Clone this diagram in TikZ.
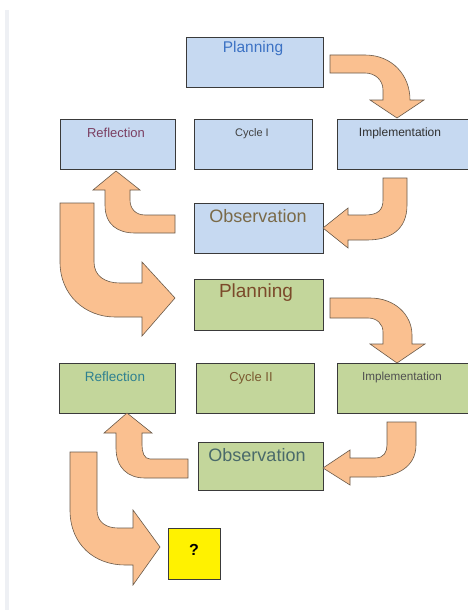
\documentclass[tikz,border=0pt]{standalone}
\usepackage{fontspec}
\setmainfont{Liberation Sans}
\usetikzlibrary{shadows}
\definecolor{bluefill}{HTML}{C6D9F1}
\definecolor{greenfill}{HTML}{C3D69B}
\definecolor{arrowfill}{HTML}{FAC090}
\definecolor{arrowline}{HTML}{6A5A4A}
\definecolor{boxline}{HTML}{3A3A3A}
\definecolor{strip}{HTML}{EEF0F4}
\definecolor{tPlanA}{HTML}{3C72C4}
\definecolor{tReflA}{HTML}{7B3F62}
\definecolor{tCycA}{HTML}{404040}
\definecolor{tImpA}{HTML}{303030}
\definecolor{tObsA}{HTML}{7A6A48}
\definecolor{tPlanB}{HTML}{7B4A2A}
\definecolor{tReflB}{HTML}{2E8090}
\definecolor{tCycB}{HTML}{7A5A30}
\definecolor{tImpB}{HTML}{505050}
\definecolor{tObsB}{HTML}{4A6A6A}
\tikzset{
  stagebox/.style={draw=boxline, line width=0.9pt, inner sep=0pt, outer sep=0pt,
    drop shadow={shadow xshift=0.8pt, shadow yshift=-0.8pt, opacity=0.35}},
  bluebox/.style={stagebox, fill=bluefill},
  greenbox/.style={stagebox, fill=greenfill},
  qbox/.style={stagebox, fill=yellow},
  lbl/.style={inner sep=0pt, anchor=center},
  blockarrow/.style={fill=arrowfill, draw=arrowline, line width=0.6pt, line join=miter}
}
\newcommand{\fs}[1]{\fontsize{#1}{#1}\selectfont}
\begin{document}
\begin{tikzpicture}[x=1pt, y=-1pt]
\useasboundingbox (0,0) rectangle (467,610);
\fill[white] (0,0) rectangle (467,610);
\fill[strip] (5,10) rectangle (9,610);

% ---- Cycle I boxes ----
\node[bluebox, minimum width=137pt, minimum height=50pt] (P1) at (254.5,62) {};
\node[bluebox, minimum width=115pt, minimum height=50pt] (R1) at (117.5,144) {};
\node[bluebox, minimum width=118pt, minimum height=50pt] (C1) at (253,144) {};
\node[bluebox, minimum width=135pt, minimum height=50pt] (I1) at (404.5,144) {};
\node[bluebox, minimum width=129pt, minimum height=50pt] (O1) at (258.5,228) {};

% ---- Cycle II boxes ----
\node[greenbox, minimum width=129pt, minimum height=51pt] (P2) at (258.5,304.5) {};
\node[greenbox, minimum width=116pt, minimum height=50pt] (R2) at (117,388) {};
\node[greenbox, minimum width=118pt, minimum height=50pt] (C2) at (255,388) {};
\node[greenbox, minimum width=135pt, minimum height=50pt] (I2) at (404.5,388) {};
\node[greenbox, minimum width=125pt, minimum height=48pt] (O2) at (260.5,466) {};

\node[qbox, minimum width=52pt, minimum height=51pt] (Q) at (194,553.5) {};

% ---- labels ----
\node[lbl, text=tPlanA] (P1t) at (253,48) {\fs{15.5}Planning};
\node[lbl, text=tReflA] (R1t) at (116,133) {\fs{13}Reflection};
\node[lbl, text=tCycA] (C1t) at (252,134) {\fs{11}Cycle I};
\node[lbl, text=tImpA] (I1t) at (400,133) {\fs{12}Implementation};
\node[lbl, text=tObsA] (O1t) at (258,216) {\fs{18}Observation};
\node[lbl, text=tPlanB] (P2t) at (256,293) {\fs{19}Planning};
\node[lbl, text=tReflB] (R2t) at (115,377) {\fs{13.5}Reflection};
\node[lbl, text=tCycB] (C2t) at (251,378) {\fs{13}Cycle II};
\node[lbl, text=tImpB] (I2t) at (402,377) {\fs{11.7}Implementation};
\node[lbl, text=tObsB] (O2t) at (257,455) {\fs{18}Observation};
\node[lbl] (Qt) at (194,550) {\fs{16}\bfseries ?};

% ---- curved block arrows ----
% Planning I -> Implementation I
\draw[blockarrow] (330,55) -- (365,55) .. controls (392,55) and (410,75) .. (410,100)
  -- (424,100) -- (397,118) -- (370,100) -- (383,100) -- (383,90)
  .. controls (383,80) and (375,73) .. (365,73) -- (330,73) -- cycle;
% Implementation I -> Observation I
\draw[blockarrow] (383,178) -- (407,178) -- (407,205) .. controls (407,230) and (390,240) .. (367,240)
  -- (348,240) -- (348,248) -- (323,228) -- (348,208) -- (348,215) -- (365,215)
  .. controls (378,215) and (383,210) .. (383,200) -- cycle;
% Observation I -> Reflection I
\draw[blockarrow] (175,215) -- (145,215) .. controls (135,215) and (130,208) .. (130,200)
  -- (130,190) -- (140,190) -- (116,171) -- (93,190) -- (105,190) -- (105,205)
  .. controls (105,225) and (118,233) .. (135,233) -- (175,233) -- cycle;
% Reflection I -> Planning II
\draw[blockarrow] (60,203) -- (94,203) -- (94,262) .. controls (94,276) and (105,283) .. (120,283)
  -- (142,283) -- (142,262) -- (175,298) -- (142,336) -- (142,317) -- (115,317)
  .. controls (85,317) and (60,295) .. (60,262) -- cycle;
% Planning II -> Implementation II
\draw[blockarrow] (330,298) -- (370,298) .. controls (395,298) and (412,315) .. (412,335)
  -- (412,344) -- (425,344) -- (397,363) -- (370,344) -- (383,344) -- (383,332)
  .. controls (383,324) and (377,318) .. (368,318) -- (330,318) -- cycle;
% Implementation II -> Observation II
\draw[blockarrow] (387,422) -- (416,422) -- (416,445) .. controls (416,468) and (395,477) .. (375,477)
  -- (350,477) -- (350,485) -- (323,468) -- (350,450) -- (350,458) -- (375,458)
  .. controls (384,458) and (387,452) .. (387,445) -- cycle;
% Observation II -> Reflection II
\draw[blockarrow] (188,459) -- (150,459) .. controls (144,459) and (142,452) .. (142,445)
  -- (142,433) -- (152,433) -- (127,413) -- (104,433) -- (116,433) -- (116,448)
  .. controls (116,468) and (128,478) .. (145,478) -- (188,478) -- cycle;
% Reflection II -> ?
\draw[blockarrow] (70,452) -- (97,452) -- (97,510) .. controls (97,522) and (106,528) .. (118,528)
  -- (133,528) -- (133,510) -- (160,547) -- (133,585) -- (133,565) -- (125,565)
  .. controls (95,565) and (70,545) .. (70,510) -- cycle;
\end{tikzpicture}
\end{document}
